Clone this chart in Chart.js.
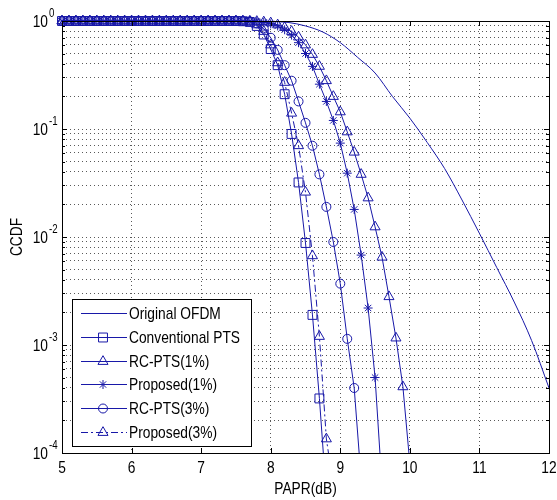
<!DOCTYPE html>
<html><head><meta charset="utf-8">
<script src="https://cdn.jsdelivr.net/npm/chart.js@4.4.0/dist/chart.umd.min.js"></script>
<style>html,body{margin:0;padding:0;background:#fff;}canvas{display:block;}</style>
</head><body>
<canvas id="c" width="557" height="500" style="width:557px;height:500px"></canvas>
<script>
// ---- data ----
const papr = [5.0,5.1,5.2,5.3,5.4,5.5,5.6,5.7,5.8,5.9,6.0,6.1,6.2,6.3,6.4,6.5,6.6,6.7,6.8,6.9,
  7.0,7.1,7.2,7.3,7.4,7.5,7.6,7.7,7.8,7.9,8.0,8.1,8.2,8.3,8.4,8.5,8.6,8.7,8.8,8.9,
  9.0,9.1,9.2,9.3,9.4,9.5,9.6,9.7,9.8,9.9,10.0];

const origX = [5,6,7,7.5,7.75,8,8.25,8.5,8.75,9,9.25,9.5,9.75,10,10.25,10.5,10.75,11,11.25,11.5,11.75,12];
const origY = [1,1,1,1,0.999,0.99,0.97,0.9,0.79,0.63,0.46,0.33,0.2,0.126,0.075,0.043,0.022,0.0108,0.0052,0.0025,0.0011,0.0004];

const convY = [1,1,1,1,1,1,1,1,1,1, 1,1,1,1,1,1,1,1,1,1, 1,1,1,1,1,1,
  0.995,0.98,0.9,0.75,0.55,0.39,0.21,0.09,0.032,0.0088,0.0019,0.00032,0.00004];

const rc1Y = [1,1,1,1,1,1,1,1,1,1, 1,1,1,1,1,1,1,1,1,1, 1,1,1,1,1,1,1,
  0.998,0.99,0.98,0.96,0.92,0.87,0.8,0.71,0.6,0.49,0.38,0.28,0.2,
  0.144,0.094,0.061,0.038,0.023,0.0124,0.0065,0.0028,0.00116,0.00041,0.00008];

const prop1Y = [1,1,1,1,1,1,1,1,1,1, 1,1,1,1,1,1,1,1,1,1, 1,1,1,1,1,1,1,
  0.997,0.99,0.97,0.94,0.9,0.83,0.74,0.63,0.5,0.38,0.26,0.18,0.12,
  0.074,0.039,0.018,0.0068,0.0022,0.0005,0.00005];

const rc3Y = [1,1,1,1,1,1,1,1,1,1, 1,1,1,1,1,1,1,1,1,1, 1,1,1,1,1,1,1,
  0.99,0.95,0.85,0.7,0.54,0.39,0.28,0.18,0.114,0.07,0.038,0.019,0.009,
  0.0037,0.00114,0.0004,0.000057];

const prop3Y = [1,1,1,1,1,1,1,1,1,1, 1,1,1,1,1,1,1,1,1,1, 1,1,1,1,1,1,
  0.995,0.98,0.92,0.8,0.6,0.41,0.27,0.14,0.07,0.026,0.0067,0.0012,0.000135,0.00005];

const seriesNames = ['Original OFDM','Conventional PTS','RC-PTS(1%)','Proposed(1%)','RC-PTS(3%)','Proposed(3%)'];
const xTickLabels = ['5','6','7','8','9','10','11','12'];
const xTickValues = [5,6,7,8,9,10,11,12];
const yDecades = [-4,-3,-2,-1,0];

// ---- styling ----
const FONT = "'Liberation Sans',Arial,Helvetica,sans-serif";
const SX = 0.81;           // horizontal condensing to mimic the narrow Helvetica of the original
const BLUE = '#1818a8';
const DASHDOT = [7,3,2,3];

const yTickValues = [];
yDecades.forEach((e, i) => {
  const b = Math.pow(10, e);
  yTickValues.push(b);
  if (i < yDecades.length - 1) for (let k = 2; k <= 9; k++) yTickValues.push(k * b);
});

function pts(xs, ys) { return ys.map((y, i) => ({x: xs[i], y: y})); }

const clipOpt = {left: 10, top: 10, right: 10, bottom: 0};
function ds(label, data, style, radius, dash) {
  return {
    label, data,
    borderColor: BLUE, borderWidth: 1, borderDash: dash || [],
    pointStyle: style, pointRadius: radius,
    pointBorderColor: BLUE, pointBackgroundColor: 'rgba(0,0,0,0)', pointBorderWidth: 1,
    tension: 0, fill: false, clip: clipOpt
  };
}

const datasets = [
  Object.assign(ds(seriesNames[0], pts(origX, origY), 'circle', 0), {cubicInterpolationMode: 'monotone'}),
  ds(seriesNames[1], pts(papr, convY), 'rect', 6.3),
  ds(seriesNames[2], pts(papr, rc1Y), 'triangle', 5.8),
  ds(seriesNames[3], pts(papr, prop1Y), 'star', 4.5),
  ds(seriesNames[4], pts(papr, rc3Y), 'circle', 4.5),
  ds(seriesNames[5], pts(papr, prop3Y), 'triangle', 5.8, DASHDOT)
];

function drawMarker(ctx, style, x, y, r) {
  ctx.beginPath();
  if (style === 'rect') {
    const s = r * Math.SQRT1_2; ctx.rect(x - s, y - s, 2 * s, 2 * s);
  } else if (style === 'triangle') {
    let a = 0;
    ctx.moveTo(x + Math.sin(a) * r, y - Math.cos(a) * r);
    a += 2 * Math.PI / 3; ctx.lineTo(x + Math.sin(a) * r, y - Math.cos(a) * r);
    a += 2 * Math.PI / 3; ctx.lineTo(x + Math.sin(a) * r, y - Math.cos(a) * r);
    ctx.closePath();
  } else if (style === 'circle') {
    ctx.arc(x, y, r, 0, Math.PI * 2);
  } else if (style === 'star') {
    for (let k = 0; k < 4; k++) {
      const a = k * Math.PI / 4;
      ctx.moveTo(x - Math.cos(a) * r, y - Math.sin(a) * r);
      ctx.lineTo(x + Math.cos(a) * r, y + Math.sin(a) * r);
    }
  }
  ctx.stroke();
}

function txt(ctx, s, x, y, align, size) {
  ctx.save();
  ctx.font = size + 'px ' + FONT;
  ctx.textAlign = align; ctx.textBaseline = 'middle';
  ctx.translate(x, y); ctx.scale(SX, 1);
  ctx.fillText(s, 0, 0);
  ctx.restore();
}

const decorPlugin = {
  id: 'decor',
  afterDraw(chart) {
    const {ctx, chartArea: a, scales: {x, y}} = chart;
    ctx.save();
    ctx.strokeStyle = '#000'; ctx.lineWidth = 1; ctx.setLineDash([]);
    // inward ticks
    ctx.beginPath();
    xTickValues.forEach(v => {
      const px = Math.round(x.getPixelForValue(v)) + 0.5;
      ctx.moveTo(px, a.bottom); ctx.lineTo(px, a.bottom - 5);
      ctx.moveTo(px, a.top); ctx.lineTo(px, a.top + 5);
    });
    yTickValues.forEach(v => {
      const py = Math.round(y.getPixelForValue(v)) + 0.5;
      const major = Math.abs(Math.log10(v) - Math.round(Math.log10(v))) < 1e-9;
      const len = major ? 5 : 3;
      ctx.moveTo(a.left, py); ctx.lineTo(a.left + len, py);
      ctx.moveTo(a.right, py); ctx.lineTo(a.right - len, py);
    });
    ctx.stroke();
    // axes box
    ctx.strokeRect(Math.round(a.left) + 0.5, Math.round(a.top) + 0.5,
                   Math.round(a.right - a.left), Math.round(a.bottom - a.top));

    // tick labels
    ctx.fillStyle = '#000';
    xTickValues.forEach((v, i) => txt(ctx, xTickLabels[i], x.getPixelForValue(v), 468, 'center', 17));
    yDecades.forEach(e => {
      const py = y.getPixelForValue(Math.pow(10, e));
      txt(ctx, '10', 48, py + 1, 'right', 17);
      txt(ctx, String(e), 49, py - 7, 'left', 12);
    });
    // axis titles
    txt(ctx, 'PAPR(dB)', (a.left + a.right) / 2, 489, 'center', 17);
    ctx.save();
    ctx.translate(17, (a.top + a.bottom) / 2);
    ctx.rotate(-Math.PI / 2);
    txt(ctx, 'CCDF', 0, 0, 'center', 17);
    ctx.restore();

    // legend
    const L = 72.5, T = 299.5, W = 179, H = 147;
    ctx.fillStyle = '#fff'; ctx.fillRect(L, T, W, H);
    ctx.strokeStyle = '#000'; ctx.strokeRect(L, T, W, H);
    chart.data.datasets.forEach((d, i) => {
      const ry = Math.round(313 + i * 23.8) + 0.5;
      ctx.strokeStyle = BLUE; ctx.lineWidth = 1;
      ctx.setLineDash(d.borderDash || []);
      ctx.beginPath(); ctx.moveTo(81, ry); ctx.lineTo(127, ry); ctx.stroke();
      ctx.setLineDash([]);
      if (d.pointRadius > 0) drawMarker(ctx, d.pointStyle, 103, ry, d.pointRadius);
      ctx.fillStyle = '#000';
      txt(ctx, d.label, 129, ry + 1, 'left', 17);
    });
    ctx.restore();
  }
};

new Chart(document.getElementById('c'), {
  type: 'line',
  data: {datasets},
  options: {
    responsive: false, animation: false, devicePixelRatio: 1, events: [],
    layout: {padding: {top: 21, right: 8, left: 0, bottom: 0}},
    plugins: {legend: {display: false}, tooltip: {enabled: false}},
    scales: {
      x: {
        type: 'linear', min: 5, max: 12,
        afterBuildTicks: s => { s.ticks = xTickValues.map(v => ({value: v})); },
        afterFit: s => { s.height = 47; },
        ticks: {display: false},
        grid: {color: 'rgba(0,0,0,0.65)', lineWidth: 1, drawTicks: false},
        border: {display: false, dash: [1, 3]}
      },
      y: {
        type: 'logarithmic', min: 1e-4, max: 1,
        afterBuildTicks: s => { s.ticks = yTickValues.map(v => ({value: v})); },
        afterFit: s => { s.width = 62; },
        ticks: {display: false},
        grid: {color: 'rgba(0,0,0,0.65)', lineWidth: 1, drawTicks: false},
        border: {display: false, dash: [1, 3]}
      }
    }
  },
  plugins: [decorPlugin]
});
</script>
</body></html>
